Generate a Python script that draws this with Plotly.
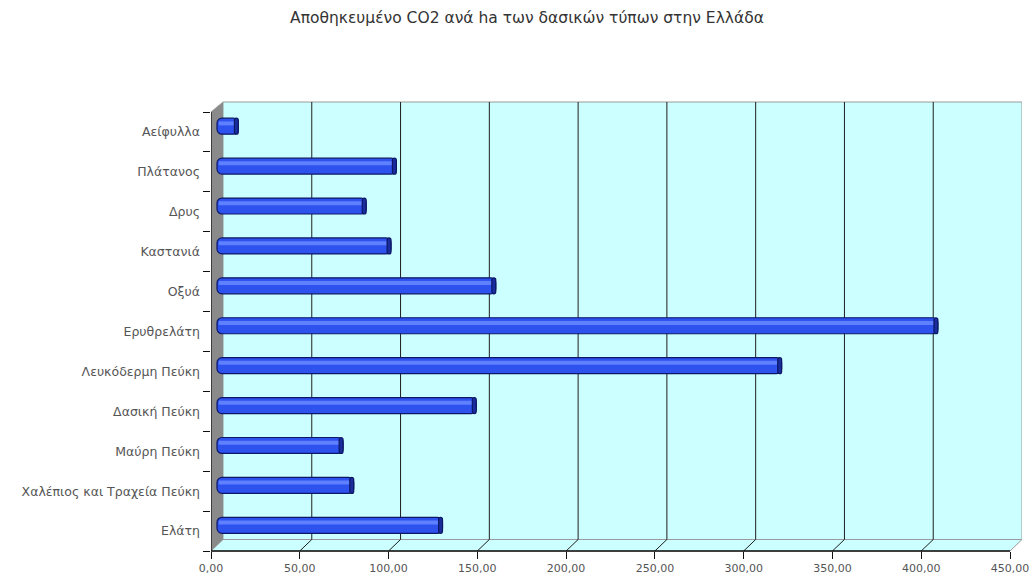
import plotly.graph_objects as go

# ---- data ----
categories = [
    "Ελάτη",
    "Χαλέπιος και Τραχεία Πεύκη",
    "Μαύρη Πεύκη",
    "Δασική Πεύκη",
    "Λευκόδερμη Πεύκη",
    "Ερυθρελάτη",
    "Οξυά",
    "Καστανιά",
    "Δρυς",
    "Πλάτανος",
    "Αείφυλλα",
]
values = [127, 77, 71, 146, 318, 406, 157, 98, 84, 101, 12]
x_ticks = [0, 50, 100, 150, 200, 250, 300, 350, 400, 450]
x_tick_labels = [f"{v:.2f}".replace(".", ",") for v in x_ticks]
title_text = "Αποθηκευμένο CO2 ανά ha των δασικών τύπων στην Ελλάδα"

# ---- geometry (pixels) ----
W, H = 1032, 580
L, T = 211, 102
plot_w = 811
plot_h = 449
R = W - L - plot_w
B = H - T - plot_h
front_w = 799                 # pixels from 0 to 450 on front axis
kx = front_w / x_ticks[-1]
x_max = plot_w / kx
depth_px_x, depth_px_y = 12, 11.5
dx = depth_px_x / kx                  # data units
dyp = depth_px_y / plot_h             # paper units
n = len(categories)
cat_px = (plot_h - 10) / n
y_top = -0.5 + plot_h / cat_px
dy_cat = depth_px_y / cat_px
top_front_p = 1 - 10 / plot_h         # paper y of the top category boundary

wall_fill = "#ccffff"
grid_col = "#1e1e1e"
edge_col = "#9a9a9a"
font_fam = "DejaVu Sans, Verdana, sans-serif"

fig = go.Figure()

# main bars (mid depth)
bar_w = 0.4
fig.add_trace(go.Bar(
    y=categories, x=values, base=[dx / 2] * n, orientation="h",
    width=bar_w, offset=-bar_w / 2 + dy_cat / 2,
    marker=dict(color="#2d52ee", line=dict(color="#0c1766", width=1.2), cornerradius=5),
    hoverinfo="skip", showlegend=False,
))
# highlight stripe
fig.add_trace(go.Bar(
    y=categories, x=[v - 2 for v in values], base=[dx / 2 + 1] * n, orientation="h",
    width=0.1, offset=-bar_w / 2 + dy_cat / 2 + 0.22,
    marker=dict(color="#5f80ff", line=dict(width=0)),
    hoverinfo="skip", showlegend=False,
))
# darker end cap
fig.add_trace(go.Bar(
    y=categories, x=[2.2] * n, base=[v + dx / 2 - 2.2 for v in values], orientation="h",
    width=bar_w, offset=-bar_w / 2 + dy_cat / 2,
    marker=dict(color="#1a2d9c", line=dict(color="#0c1766", width=1.2), cornerradius=4),
    hoverinfo="skip", showlegend=False,
))

shapes = []
# back wall
shapes.append(dict(type="rect", xref="x", yref="paper", x0=dx, x1=x_max, y0=dyp, y1=1,
                   fillcolor=wall_fill, line=dict(color=edge_col, width=1), layer="below"))
# floor
shapes.append(dict(type="path", xref="x", yref="paper",
                   path=f"M 0,0 L {dx},{dyp} L {x_max},{dyp} L {x_ticks[-1]},0 Z",
                   fillcolor=wall_fill, line=dict(color=edge_col, width=1), layer="below"))
# side wall
shapes.append(dict(type="path", xref="x", yref="paper",
                   path=f"M 0,0 L {dx},{dyp} L {dx},1 L 0,{top_front_p} Z",
                   fillcolor="#8a8a8a", line=dict(width=0), layer="below"))
# gridlines on back wall + diagonals on floor
for v in x_ticks[1:-1]:
    shapes.append(dict(type="line", xref="x", yref="paper", x0=v + dx, x1=v + dx, y0=dyp, y1=1,
                       line=dict(color=grid_col, width=1), layer="below"))
    shapes.append(dict(type="line", xref="x", yref="paper", x0=v, x1=v + dx, y0=0, y1=dyp,
                       line=dict(color=grid_col, width=1), layer="below"))
# front axis lines
shapes.append(dict(type="line", xref="x", yref="paper", x0=0, x1=x_ticks[-1], y0=0, y1=0,
                   line=dict(color="#111111", width=1.3)))
shapes.append(dict(type="line", xref="x", yref="paper", x0=0, x1=0, y0=0, y1=top_front_p,
                   line=dict(color="#111111", width=1.3)))
# top edge of side wall
shapes.append(dict(type="line", xref="x", yref="paper", x0=0, x1=dx, y0=top_front_p, y1=1,
                   line=dict(color=edge_col, width=1)))

fig.update_layout(
    width=W, height=H,
    margin=dict(l=L, r=R, t=T, b=B, autoexpand=False),
    paper_bgcolor="white", plot_bgcolor="white",
    barmode="overlay",
    font=dict(family=font_fam, size=11, color="#555555"),
    title=dict(text=title_text, xref="container", yref="container",
               x=527 / W, xanchor="center",
               y=1 - 18 / H, yanchor="middle",
               font=dict(size=15.5, color="#333333", family=font_fam)),
    shapes=shapes,
    xaxis=dict(range=[0, x_max], tickvals=x_ticks, ticktext=x_tick_labels,
               showgrid=False, zeroline=False, showline=False,
               ticks="outside", ticklen=7, tickwidth=1.3, tickcolor="#111111",
               tickfont=dict(size=11, color="#555555"),
               fixedrange=True),
    yaxis=dict(type="category", categoryorder="array", categoryarray=categories,
               range=[-0.5, y_top], tickson="boundaries",
               showgrid=False, zeroline=False, showline=False,
               ticks="outside", ticklen=7, tickwidth=1.3, tickcolor="#111111",
               ticklabelstandoff=10,
               tickfont=dict(size=12.5, color="#555555"),
               fixedrange=True),
)

fig.write_html(
    "out.html",
    config={"displayModeBar": False},
    post_script="document.body.style.margin='0';document.body.style.overflow='hidden';",
)
